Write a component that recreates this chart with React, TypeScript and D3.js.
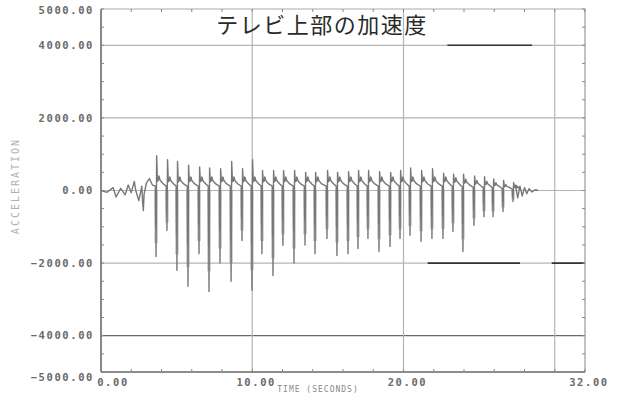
import * as d3 from "d3";
import { useEffect, useRef } from "react";

const title = "テレビ上部の加速度";
const yTitle = "ACCELERATION";
const xTitle = "TIME (SECONDS)";

const yTickLabels = [5000, 4000, 2000, 0, -2000, -4000, -5000];
const yGrid = [4000, 2000, 0, -2000, -4000];
const xTickLabels = [0, 10, 20, 32];
const xGrid = [10, 20, 30];

// small ringing before the first hit
const leadTimes = [0, 0.4, 0.8, 1.0, 1.3, 1.6, 1.8, 2.0, 2.2, 2.3, 2.5, 2.7, 2.75, 2.8, 2.85, 3.0, 3.2, 3.4];
const leadValues = [0, -50, 80, -180, 60, -120, 150, -60, 250, 0, -280, 120, -300, -550, -100, 200, 330, 150];

// one entry per impact
const pulseTimes = [
  3.64, 4.36, 5.02, 5.75, 6.48, 7.14, 7.87, 8.6, 9.32, 9.98, 10.64, 11.37, 12.03, 12.76, 13.49, 14.15, 14.94, 15.6,
  16.33, 16.99, 17.65, 18.38, 19.11, 19.77, 20.43, 21.16, 21.88, 22.61, 23.27, 23.93, 24.66, 25.32, 25.92, 26.58, 27.24,
];
const pulsePeaks = [
  960, 850, 800, 700, 650, 620, 600, 800, 600, 850, 550, 550, 550, 550, 500, 500, 550, 500,
  520, 550, 550, 520, 500, 550, 620, 550, 600, 480, 450, 450, 400, 380, 320, 280, 220,
];
const pulseTroughs = [
  -1820, -1100, -2200, -2640, -1740, -2780, -2000, -2500, -1380, -2750, -1740, -2340, -1510, -2000, -1500, -1740, -1320, -1790,
  -1740, -1600, -1320, -1680, -1540, -1320, -1230, -1400, -1320, -1320, -1130, -1680, -960, -720, -720, -580, -300,
];
const pulseShoulders = [
  320, 300, 300, 300, 300, 300, 300, 300, 300, 300, 300, 300, 300, 300, 300, 300, 300, 300,
  300, 300, 300, 300, 300, 300, 300, 300, 300, 300, 280, 250, 220, 200, 170, 130, 100,
];

// decay after the last hit
const tailTimes = [27.4, 27.55, 27.7, 27.85, 28.0, 28.15, 28.3, 28.5, 28.7, 28.9];
const tailValues = [150, -200, 120, -150, 80, -90, 50, -40, 20, 0];

// darker stretches of the printed grid (scan artefacts)
const darkGridValues = [4000, -2000, -2000];
const darkGridFrom = [22.9, 21.6, 29.8];
const darkGridTo = [28.5, 27.7, 32];

export default function App() {
  const ref = useRef<SVGSVGElement>(null);

  useEffect(() => {
    const svg = d3.select(ref.current);
    svg.selectAll("*").remove();

    const W = 619, H = 393;
    const left = 101, right = 585, top = 9, bottom = 372;

    const x = d3.scaleLinear().domain([0, 32]).range([left, right]);
    const y = d3.scaleLinear().domain([-5000, 5000]).range([bottom, top]);
    const fmt = d3.format(".2f");

    svg.append("rect").attr("width", W).attr("height", H).attr("fill", "#fff");

    svg.append("defs").append("clipPath").attr("id", "plot")
      .append("rect").attr("x", left).attr("y", top).attr("width", right - left).attr("height", bottom - top);

    // grid
    const grid = svg.append("g");
    grid.selectAll("line.h").data(yGrid).enter().append("line")
      .attr("x1", left).attr("x2", right)
      .attr("y1", (d) => y(d)).attr("y2", (d) => y(d))
      .attr("stroke", (d) => (d === -4000 ? "#6a6a6a" : "#b4b4b4"))
      .attr("stroke-width", 1.2);
    grid.selectAll("line.v").data(xGrid).enter().append("line")
      .attr("y1", top).attr("y2", bottom)
      .attr("x1", (d) => x(d)).attr("x2", (d) => x(d))
      .attr("stroke", "#b4b4b4").attr("stroke-width", 1.2);
    grid.selectAll("line.dark").data(darkGridValues).enter().append("line")
      .attr("x1", (d, i) => x(darkGridFrom[i])).attr("x2", (d, i) => x(darkGridTo[i]))
      .attr("y1", (d) => y(d)).attr("y2", (d) => y(d))
      .attr("stroke", "#333").attr("stroke-width", 1.6);

    // frame
    svg.append("line").attr("x1", left).attr("x2", right).attr("y1", top).attr("y2", top)
      .attr("stroke", "#aaa").attr("stroke-width", 1.2);
    svg.append("line").attr("x1", right).attr("x2", right).attr("y1", top).attr("y2", bottom)
      .attr("stroke", "#999").attr("stroke-width", 1.2);
    svg.append("line").attr("x1", left).attr("x2", left).attr("y1", top).attr("y2", bottom)
      .attr("stroke", "#555").attr("stroke-width", 1.4);
    svg.append("line").attr("x1", left).attr("x2", right).attr("y1", bottom).attr("y2", bottom)
      .attr("stroke", "#666").attr("stroke-width", 1.4);

    // minor ticks, inward
    const yMinor = d3.range(-5000, 5001, 500);
    const xMinor = d3.range(0, 32.01, 2);
    const ticks = svg.append("g").attr("stroke", "#888").attr("stroke-width", 1);
    ticks.selectAll("line.yl").data(yMinor).enter().append("line")
      .attr("x1", left).attr("x2", left + 3).attr("y1", (d) => y(d)).attr("y2", (d) => y(d));
    ticks.selectAll("line.yr").data(yMinor).enter().append("line")
      .attr("x1", right - 3).attr("x2", right).attr("y1", (d) => y(d)).attr("y2", (d) => y(d));
    ticks.selectAll("line.xb").data(xMinor).enter().append("line")
      .attr("x1", (d) => x(d)).attr("x2", (d) => x(d)).attr("y1", bottom - 3).attr("y2", bottom);
    ticks.selectAll("line.xt").data(xMinor).enter().append("line")
      .attr("x1", (d) => x(d)).attr("x2", (d) => x(d)).attr("y1", top).attr("y2", top + 3);

    // y tick labels
    svg.append("g").selectAll("text").data(yTickLabels).enter().append("text")
      .attr("x", 94)
      .attr("y", (d) => y(d) + (d === -5000 ? 5 : d === 5000 ? 1 : 0))
      .attr("dy", "0.35em")
      .attr("text-anchor", "end")
      .style("font-family", "DejaVu Sans Mono")
      .style("font-size", "10.5px")
      .style("font-weight", "bold")
      .style("letter-spacing", "1.6px")
      .style("fill", "#6a6a6a")
      .text((d) => fmt(d));

    // x tick labels
    svg.append("g").selectAll("text").data(xTickLabels).enter().append("text")
      .attr("x", (d) => (d === 0 ? x(d) + 12 : x(d) + 4))
      .attr("y", 382)
      .attr("dy", "0.35em")
      .attr("text-anchor", "middle")
      .style("font-family", "DejaVu Sans Mono")
      .style("font-size", "10.5px")
      .style("font-weight", "bold")
      .style("letter-spacing", "1.6px")
      .style("fill", "#6a6a6a")
      .text((d) => fmt(d));

    // axis titles
    svg.append("text")
      .attr("transform", "translate(19,186) rotate(-90)")
      .attr("text-anchor", "middle")
      .style("font-family", "DejaVu Sans Mono")
      .style("font-size", "10px")
      .style("letter-spacing", "2px")
      .style("fill", "#b0b0b0")
      .text(yTitle);
    svg.append("text")
      .attr("x", 318).attr("y", 392)
      .attr("text-anchor", "middle")
      .style("font-family", "DejaVu Sans Mono")
      .style("font-size", "8px")
      .style("letter-spacing", "1px")
      .style("fill", "#888")
      .text(xTitle);

    // build the trace
    const pts: [number, number][] = leadTimes.map((t, i) => [t, leadValues[i]]);
    pulseTimes.forEach((t, i) => {
      const T = pulseTroughs[i], P = pulsePeaks[i], S = pulseShoulders[i];
      pts.push([t - 0.05, S * 0.4]);
      pts.push([t - 0.025, T * 0.55]);
      pts.push([t - 0.012, T * 0.35]);
      pts.push([t, T]);
      pts.push([t + 0.04, P]);
      pts.push([t + 0.09, S * 0.8]);
      pts.push([t + 0.14, S * 0.85]);
      pts.push([t + 0.19, S * 1.25]);
      pts.push([t + 0.26, S * 0.9]);
      pts.push([t + 0.45, S * 0.6]);
    });
    tailTimes.forEach((t, i) => pts.push([t, tailValues[i]]));

    const line = d3.line<[number, number]>()
      .x((d) => x(d[0]))
      .y((d) => y(d[1]));

    const trace = svg.append("g").attr("clip-path", "url(#plot)");

    // soft band under each hit, like the smeared print
    trace.selectAll("line.band").data(pulseTimes).enter().append("line")
      .attr("x1", (d) => x(d)).attr("x2", (d) => x(d))
      .attr("y1", y(0)).attr("y2", (d, i) => y(pulseTroughs[i] * 0.8))
      .attr("stroke", "#999").attr("stroke-width", 3.5).attr("opacity", 0.55);

    trace.append("path")
      .datum(pts)
      .attr("d", line)
      .attr("fill", "none")
      .attr("stroke", "#777")
      .attr("stroke-width", 1.4)
      .attr("stroke-linejoin", "round");

    // title
    svg.append("text")
      .attr("x", 322).attr("y", 33)
      .attr("text-anchor", "middle")
      .style("font-family", "Noto Sans CJK JP")
      .style("font-size", "22px")
      .style("letter-spacing", "1.5px")
      .style("fill", "#2a2a2a")
      .text(title);
  }, []);

  return (
    <div style={{ position: "absolute", left: 0, top: 0, width: 619, height: 393 }}>
      <svg ref={ref} width={619} height={393} style={{ display: "block" }} />
    </div>
  );
}
